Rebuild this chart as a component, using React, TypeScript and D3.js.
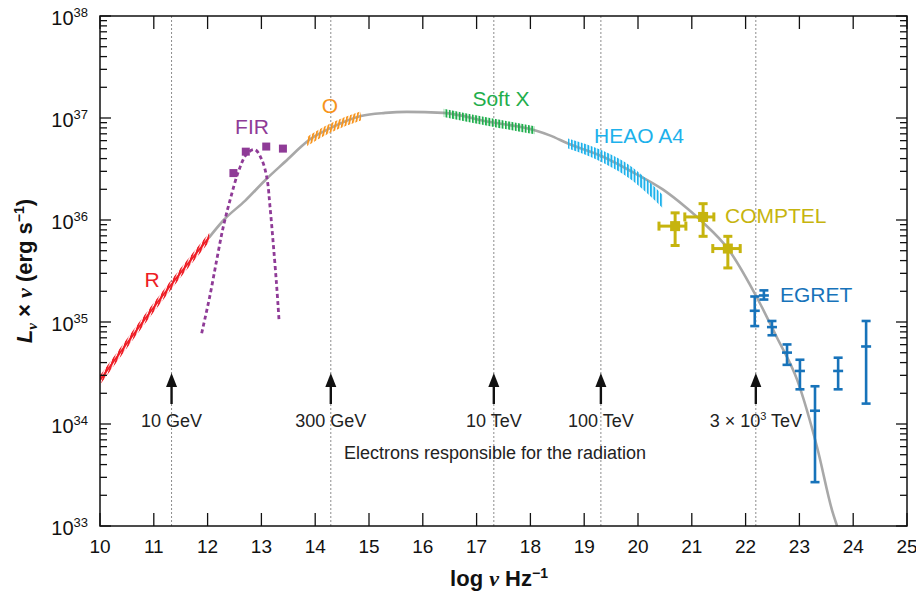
import * as d3 from 'd3';
import React from 'react';

// chart size
const width = 916;
const height = 592;
const margin = { top: 16, right: 9, bottom: 66, left: 100 };

// gray model curve (log nu, log L)
const modelNu = [12.03, 12.3, 12.7, 13.07, 13.5, 13.72, 13.85, 14.28, 14.85, 15.3, 15.7, 16.38, 17.25, 18.08, 18.36, 18.7, 19.35, 19.9, 20.46, 20.9, 21.2, 21.67, 22.2, 22.58, 22.96, 23.33, 23.62, 23.7];
const modelLogL = [35.83, 36.0, 36.19, 36.39, 36.6, 36.71, 36.77, 36.9, 37.02, 37.05, 37.06, 37.05, 36.96, 36.88, 36.83, 36.75, 36.62, 36.47, 36.3, 36.12, 35.98, 35.72, 35.25, 34.85, 34.43, 33.77, 33.13, 33.0];

// hatched bands
const radioNu = [10.0, 11.3, 12.03];
const radioLogL = [34.43, 35.35, 35.83];
const radioHalf = [0.045, 0.045, 0.045];

const opticalNu = [13.85, 14.28, 14.85];
const opticalLogL = [36.77, 36.9, 37.02];
const opticalHalf = [0.045, 0.045, 0.045];

const softXNu = [16.39, 17.25, 18.08];
const softXLogL = [37.05, 36.96, 36.88];
const softXHalf = [0.04, 0.04, 0.04];

const heaoNu = [18.7, 19.35, 19.9, 20.46];
const heaoLogL = [36.75, 36.62, 36.45, 36.18];
const heaoHalf = [0.05, 0.058, 0.065, 0.065];

// FIR
const firNu = [12.48, 12.71, 13.09, 13.4];
const firLogL = [36.46, 36.67, 36.72, 36.7];
const firCurveNu = [11.89, 12.04, 12.17, 12.29, 12.42, 12.57, 12.73, 12.88, 13.0, 13.1, 13.16, 13.22, 13.28, 13.33];
const firCurveLogL = [34.89, 35.25, 35.61, 35.93, 36.2, 36.47, 36.65, 36.69, 36.6, 36.42, 36.13, 35.77, 35.38, 35.0];

// COMPTEL
const comptelNu = [20.69, 21.21, 21.67];
const comptelNuLo = [20.39, 20.87, 21.39];
const comptelNuHi = [20.89, 21.41, 21.9];
const comptelLogL = [35.94, 36.03, 35.72];
const comptelLogLo = [35.75, 35.84, 35.53];
const comptelLogHi = [36.07, 36.16, 35.84];

// EGRET
const egretNu = [22.17, 22.34, 22.49, 22.77, 23.01, 23.29, 23.72, 24.24];
const egretLogL = [35.11, 35.26, 34.95, 34.7, 34.52, 34.13, 34.52, 34.76];
const egretLogLo = [34.96, 35.22, 34.87, 34.58, 34.34, 33.43, 34.34, 34.2];
const egretLogHi = [35.25, 35.31, 35.01, 34.78, 34.63, 34.37, 34.65, 35.01];

// electron energies
const electronNu = [11.33, 14.29, 17.32, 19.31, 22.19];
const electronLabels = ['10 GeV', '300 GeV', '10 TeV', '100 TeV', '3 × 10|3| TeV'];

const xTicks = d3.range(10, 26);

const colors = {
  red: '#ee1d25',
  purple: '#8f3b97',
  orange: '#f7941d',
  green: '#1fae4c',
  light: '#1db1eb',
  olive: '#c6b40e',
  blue: '#1773ba',
  gray: '#a8a8a8',
};

const font = '"Liberation Sans", Arial, Helvetica, sans-serif';
const serif = '"Liberation Serif", "Times New Roman", serif';

const App = () => {
  const x = d3.scaleLinear().domain([10, 25]).range([margin.left, width - margin.right]);
  const y = d3.scaleLog().domain([1e33, 1e38]).range([height - margin.bottom, margin.top]);
  const yl = (v: number) => y(Math.pow(10, v));
  const top = margin.top;
  const bottom = height - margin.bottom;
  const left = margin.left;
  const right = width - margin.right;

  const line = d3.line<number>().x(i => x(modelNu[i])).y(i => yl(modelLogL[i])).curve(d3.curveMonotoneX);
  const modelPath = line(modelNu.map((_, i) => i));

  const firLine = d3.line<number>()
    .x(i => x(firCurveNu[i]))
    .y(i => yl(firCurveLogL[i]))
    .curve(d3.curveCatmullRom);
  const firPath = firLine(firCurveNu.map((_, i) => i));

  const band = (nu: number[], logL: number[], half: number[]) =>
    d3.area<number>()
      .x(i => x(nu[i]))
      .y0(i => yl(logL[i] - half[i]))
      .y1(i => yl(logL[i] + half[i]))
      .curve(d3.curveMonotoneX)(nu.map((_, i) => i));

  const radioLine = d3.line<number>().x(i => x(radioNu[i])).y(i => yl(radioLogL[i])).curve(d3.curveMonotoneX)(radioNu.map((_, i) => i));

  const yTicks = y.ticks();
  const isMajor = (v: number) => Math.abs(Math.log10(v) - Math.round(Math.log10(v))) < 1e-6;

  const hatch = (id: string, color: string, angle: number) => (
    <pattern id={id} patternUnits="userSpaceOnUse" width={3.3} height={20} patternTransform={`rotate(${angle})`}>
      <rect x={0} y={0} width={1.9} height={20} fill={color} />
    </pattern>
  );

  return (
    <svg width={width} height={height} style={{ position: 'absolute', left: 0, top: 0, background: '#fff' }} fontFamily={font}>
      <defs>
        {hatch('hatch-r', colors.red, 18)}
        {hatch('hatch-o', colors.orange, 12)}
        {hatch('hatch-x', colors.green, 0)}
        {hatch('hatch-h', colors.light, 0)}
        <clipPath id="plot-clip">
          <rect x={left} y={top} width={right - left} height={bottom - top} />
        </clipPath>
      </defs>

      {/* electron energy guides */}
      {electronNu.map((v, i) => (
        <line key={'g' + i} x1={x(v)} x2={x(v)} y1={top} y2={bottom} stroke="#8c8c8c" strokeWidth={1} strokeDasharray="2 2" />
      ))}

      <g clipPath="url(#plot-clip)">
        <path d={modelPath || ''} fill="none" stroke={colors.gray} strokeWidth={2.6} />
        <path d={firPath || ''} fill="none" stroke={colors.purple} strokeWidth={2.8} strokeDasharray="4 3" />

        <path d={radioLine || ''} fill="none" stroke={colors.red} strokeWidth={1.8} />
        <path d={band(radioNu, radioLogL, radioHalf) || ''} fill="url(#hatch-r)" />
        <path d={band(opticalNu, opticalLogL, opticalHalf) || ''} fill="url(#hatch-o)" />
        <path d={band(softXNu, softXLogL, softXHalf) || ''} fill="url(#hatch-x)" />
        <path d={band(heaoNu, heaoLogL, heaoHalf) || ''} fill="url(#hatch-h)" />

        {firNu.map((v, i) => (
          <rect key={'f' + i} x={x(v) - 4} y={yl(firLogL[i]) - 4} width={8} height={8} fill={colors.purple} />
        ))}

        {comptelNu.map((v, i) => {
          const cx = x(v);
          const cy = yl(comptelLogL[i]);
          const x0 = x(comptelNuLo[i]);
          const x1 = x(comptelNuHi[i]);
          const y0 = yl(comptelLogLo[i]);
          const y1 = yl(comptelLogHi[i]);
          return (
            <g key={'c' + i} stroke={colors.olive} strokeWidth={3}>
              <line x1={cx} x2={cx} y1={y0} y2={y1} />
              <line x1={cx - 4.5} x2={cx + 4.5} y1={y0} y2={y0} />
              <line x1={cx - 4.5} x2={cx + 4.5} y1={y1} y2={y1} />
              <line x1={x0} x2={x1} y1={cy} y2={cy} />
              <line x1={x0} x2={x0} y1={cy - 4.5} y2={cy + 4.5} />
              <line x1={x1} x2={x1} y1={cy - 4.5} y2={cy + 4.5} />
              <rect x={cx - 5} y={cy - 5} width={10} height={10} fill={colors.olive} stroke="none" />
            </g>
          );
        })}

        {egretNu.map((v, i) => {
          const cx = x(v);
          const cy = yl(egretLogL[i]);
          const y0 = yl(egretLogLo[i]);
          const y1 = yl(egretLogHi[i]);
          return (
            <g key={'e' + i} stroke={colors.blue} strokeWidth={2.6}>
              <line x1={cx} x2={cx} y1={y0} y2={y1} />
              <line x1={cx - 4.5} x2={cx + 4.5} y1={y0} y2={y0} />
              <line x1={cx - 4.5} x2={cx + 4.5} y1={y1} y2={y1} />
              <line x1={cx - 5} x2={cx + 5} y1={cy} y2={cy} />
            </g>
          );
        })}
      </g>

      {/* series labels */}
      <g fontSize={21}>
        <text x={152} y={287} textAnchor="middle" fill={colors.red}>R</text>
        <text x={252} y={134} textAnchor="middle" fill={colors.purple}>FIR</text>
        <text x={330} y={113} textAnchor="middle" fill={colors.orange}>O</text>
        <text x={501} y={106} textAnchor="middle" fill={colors.green}>Soft X</text>
        <text x={594} y={143} fill={colors.light}>HEAO A4</text>
        <text x={725} y={223} fill={colors.olive}>COMPTEL</text>
        <text x={780} y={302} fill={colors.blue}>EGRET</text>
      </g>

      {/* electron arrows */}
      {electronNu.map((v, i) => {
        const cx = x(v);
        const parts = electronLabels[i].split('|');
        return (
          <g key={'a' + i}>
            <line x1={cx} x2={cx} y1={404} y2={384} stroke="#111" strokeWidth={2.4} />
            <path d={`M${cx},373 L${cx + 5.5},387 L${cx - 5.5},387 Z`} fill="#111" />
            <text x={cx} y={427} textAnchor="middle" fontSize={18} fill="#222">
              {parts[0]}
              {parts.length > 1 && <tspan dy={-7} fontSize={11}>{parts[1]}</tspan>}
              {parts.length > 1 && <tspan dy={7}>{parts[2]}</tspan>}
            </text>
          </g>
        );
      })}
      <text x={495} y={459} textAnchor="middle" fontSize={18} fill="#222">Electrons responsible for the radiation</text>

      {/* axes frame and ticks */}
      <rect x={left} y={top} width={right - left} height={bottom - top} fill="none" stroke="#111" strokeWidth={1.5} />
      {xTicks.map(t => (
        <g key={'xt' + t} stroke="#111" strokeWidth={1.3}>
          <line x1={x(t)} x2={x(t)} y1={bottom} y2={bottom - 13} />
          <line x1={x(t)} x2={x(t)} y1={top} y2={top + 13} />
        </g>
      ))}
      {xTicks.map(t => (
        <text key={'xl' + t} x={x(t)} y={553} textAnchor="middle" fontSize={19} fill="#111">{t}</text>
      ))}
      {yTicks.map((t, i) => {
        const len = isMajor(t) ? 11 : 7;
        return (
          <g key={'yt' + i} stroke="#111" strokeWidth={1.3}>
            <line x1={left} x2={left + len} y1={y(t)} y2={y(t)} />
            <line x1={right} x2={right - len} y1={y(t)} y2={y(t)} />
          </g>
        );
      })}
      {yTicks.filter(isMajor).map(t => (
        <text key={'yl' + t} x={88} y={y(t) + 9} textAnchor="end" fontSize={20} fill="#111">
          10<tspan dy={-8} fontSize={13}>{Math.round(Math.log10(t))}</tspan>
        </text>
      ))}

      {/* axis titles */}
      <text x={499} y={586} textAnchor="middle" fontSize={22} fontWeight="bold" fill="#111">
        log <tspan fontFamily={serif} fontStyle="italic">ν</tspan> Hz<tspan dy={-8} fontSize={14}>−1</tspan>
      </text>
      <text transform="translate(32,271) rotate(-90)" textAnchor="middle" fontSize={22} fontWeight="bold" fill="#111">
        <tspan fontStyle="italic">L</tspan>
        <tspan dy={5} fontSize={15} fontFamily={serif} fontStyle="italic">ν</tspan>
        <tspan dy={-5}> × </tspan>
        <tspan fontFamily={serif} fontStyle="italic">ν</tspan>
        <tspan> (erg s</tspan>
        <tspan dy={-8} fontSize={14}>−1</tspan>
        <tspan dy={8}>)</tspan>
      </text>
    </svg>
  );
};

export default App;
